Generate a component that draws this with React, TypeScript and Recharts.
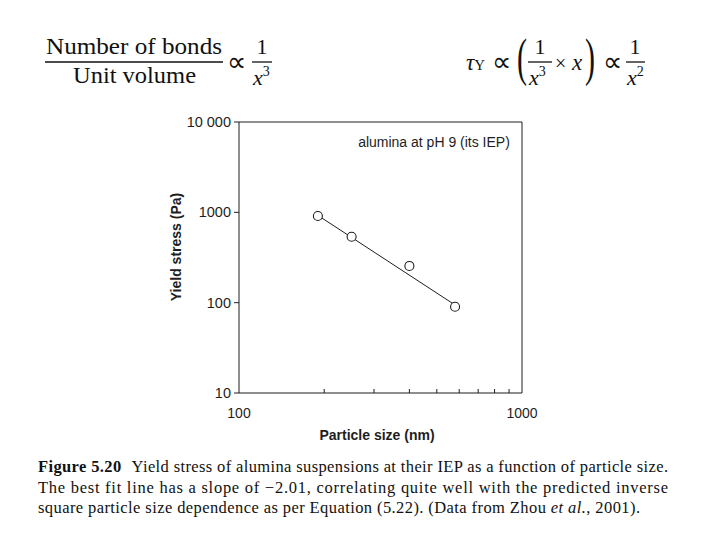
import React from 'react';
import { ScatterChart, Scatter, XAxis, YAxis, ReferenceLine } from 'recharts';

const particleSize = [190, 250, 400, 580];
const yieldStress = [912, 537, 255, 90];
const fitSize = [190, 572];
const fitStress = [925, 97];
const xTicks = [100, 200, 300, 400, 500, 600, 700, 800, 900, 1000];
const xLabelTicks = [100, 1000];
const yTicks = [10, 100, 1000, 10000];

const points = particleSize.map((x, i) => ({ x, y: yieldStress[i] }));
const fitLine = fitSize.map((x, i) => ({ x, y: fitStress[i] }));

const INK = '#1e1e1e';
const SANS = '"Liberation Sans", Arial, sans-serif';
const SERIF = '"Liberation Serif", "Times New Roman", serif';

const fmtY = (v: number) => (v === 10000 ? '10 000' : String(v));

const XTick = (props: any) => {
  const { x, y, payload } = props;
  const v = payload.value;
  const labeled = xLabelTicks.includes(v);
  return (
    <g>
      {!labeled && <line x1={x} x2={x} y1={y} y2={y - 4} stroke={INK} strokeWidth={1} />}
      {labeled && (
        <text x={x} y={y + 25} textAnchor="middle" fontSize={14} fontFamily={SANS} fill={INK}>
          {v}
        </text>
      )}
    </g>
  );
};

const OpenCircle = (props: any) => {
  const { cx, cy } = props;
  return <circle cx={cx} cy={cy} r={4.5} fill="#fff" stroke={INK} strokeWidth={1.1} />;
};

const NoShape = () => <g />;

export default function App() {
  return (
    <div style={{ position: 'absolute', left: 0, top: 0, width: 720, height: 540, background: '#fff' }}>
      <ScatterChart width={720} height={540} margin={{ top: 122, right: 198, bottom: 0, left: 0 }}>
        <XAxis
          dataKey="x"
          type="number"
          scale="log"
          domain={[100, 1000]}
          ticks={xTicks}
          interval={0}
          tickSize={0}
          tickMargin={0}
          tick={<XTick />}
          axisLine={{ stroke: INK, strokeWidth: 1 }}
          tickLine={false}
          height={147}
          allowDataOverflow
        />
        <YAxis
          dataKey="y"
          type="number"
          scale="log"
          domain={[10, 10000]}
          ticks={yTicks}
          interval={0}
          tickFormatter={fmtY}
          tickSize={5}
          tickMargin={3}
          tick={{ fontSize: 14.5, fontFamily: SANS, fill: INK }}
          tickLine={{ stroke: INK, strokeWidth: 1 }}
          axisLine={{ stroke: INK, strokeWidth: 1 }}
          width={239}
          allowDataOverflow
        />
        <ReferenceLine y={10000} stroke={INK} strokeWidth={1} />
        <ReferenceLine x={1000} stroke={INK} strokeWidth={1} />
        <Scatter
          data={fitLine}
          line={{ stroke: INK, strokeWidth: 1 }}
          shape={<NoShape />}
          isAnimationActive={false}
        />
        <Scatter data={points} shape={<OpenCircle />} isAnimationActive={false} />
      </ScatterChart>

      <svg
        width={720}
        height={540}
        style={{ position: 'absolute', left: 0, top: 0, pointerEvents: 'none' }}
      >
        {/* axis titles and annotation */}
        <text x={434} y={147} textAnchor="middle" fontSize={14} fontFamily={SANS} fill={INK}>
          alumina at pH 9 (its IEP)
        </text>
        <text
          x={176}
          y={247}
          textAnchor="middle"
          dominantBaseline="central"
          transform="rotate(-90 176 247)"
          fontSize={14}
          fontWeight="bold"
          fontFamily={SANS}
          fill={INK}
        >
          Yield stress (Pa)
        </text>
        <text x={377} y={440} textAnchor="middle" fontSize={14} fontWeight="bold" fontFamily={SANS} fill={INK}>
          Particle size (nm)
        </text>

        {/* left equation */}
        <g fontFamily={SERIF} fill="#111">
          <text x={46} y={54} fontSize={23} textLength={176} lengthAdjust="spacingAndGlyphs">
            Number of bonds
          </text>
          <line x1={45} x2={223} y1={62} y2={62} stroke="#111" strokeWidth={1.3} />
          <text x={73} y={83} fontSize={23} textLength={123} lengthAdjust="spacingAndGlyphs">
            Unit volume
          </text>
          <text x={227} y={71} fontSize={27}>∝</text>
          <text x={262} y={54} fontSize={22} textAnchor="middle">1</text>
          <line x1={252} x2={272} y1={62} y2={62} stroke="#111" strokeWidth={1.3} />
          <text x={253} y={85} fontSize={22}>
            <tspan fontStyle="italic">x</tspan>
            <tspan fontSize={14} dy={-9}>3</tspan>
          </text>
        </g>

        {/* right equation */}
        <g fontFamily={SERIF} fill="#111">
          <text x={466} y={70} fontSize={23}>
            <tspan fontStyle="italic">τ</tspan>
            <tspan fontSize={15}>Y</tspan>
          </text>
          <text x={492} y={71} fontSize={27}>∝</text>
          <text x={0} y={0} fontSize={40} transform="translate(517 75) scale(0.75 1.3)">(</text>
          <text x={540} y={54} fontSize={22} textAnchor="middle">1</text>
          <line x1={528} x2={552} y1={62} y2={62} stroke="#111" strokeWidth={1.3} />
          <text x={529} y={85} fontSize={22}>
            <tspan fontStyle="italic">x</tspan>
            <tspan fontSize={14} dy={-9}>3</tspan>
          </text>
          <text x={555} y={70} fontSize={20}>×</text>
          <text x={572} y={70} fontSize={23} fontStyle="italic">x</text>
          <text x={0} y={0} fontSize={40} transform="translate(585 75) scale(0.75 1.3)">)</text>
          <text x={603} y={71} fontSize={27}>∝</text>
          <text x={635} y={54} fontSize={22} textAnchor="middle">1</text>
          <line x1={626} x2={645} y1={62} y2={62} stroke="#111" strokeWidth={1.3} />
          <text x={627} y={85} fontSize={22}>
            <tspan fontStyle="italic">x</tspan>
            <tspan fontSize={14} dy={-9}>2</tspan>
          </text>
        </g>

        {/* caption */}
        <g fontFamily={SERIF} fill="#111" fontSize={16.5}>
          <text x={38} y={472} textLength={630} lengthAdjust="spacing">
            <tspan fontWeight="bold">Figure 5.20</tspan>
            <tspan dx={10}>Yield stress of alumina suspensions at their IEP as a function of particle size.</tspan>
          </text>
          <text x={38} y={492.5} textLength={630} lengthAdjust="spacing">
            The best fit line has a slope of −2.01, correlating quite well with the predicted inverse
          </text>
          <text x={38} y={513} textLength={602} lengthAdjust="spacing">
            square particle size dependence as per Equation (5.22). (Data from Zhou{' '}
            <tspan fontStyle="italic">et al.</tspan>, 2001).
          </text>
        </g>
      </svg>
    </div>
  );
}
